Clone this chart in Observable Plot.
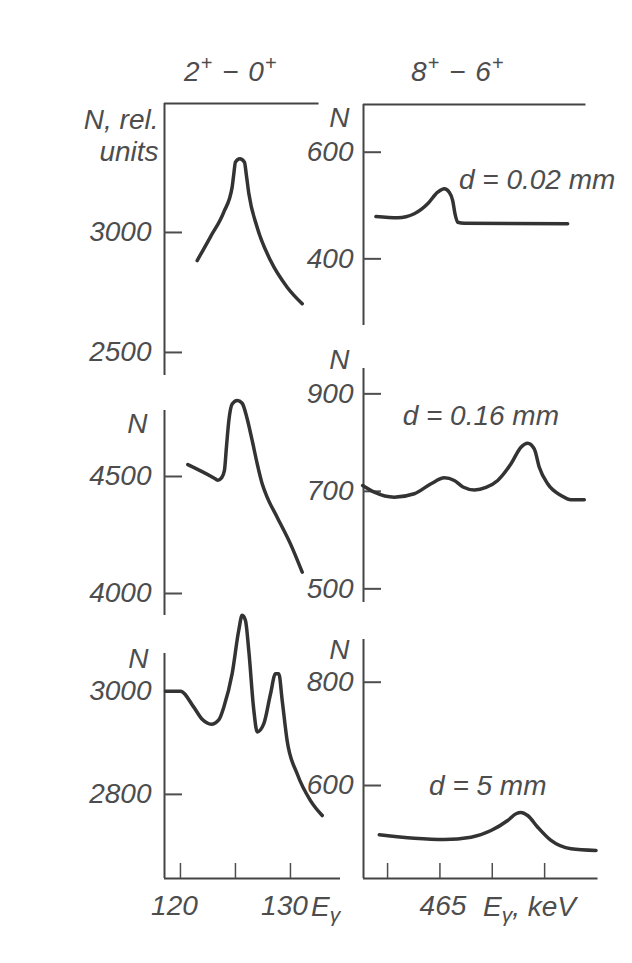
<!DOCTYPE html>
<html>
<head>
<meta charset="utf-8">
<script src="https://cdn.jsdelivr.net/npm/d3@7"></script>
<script src="https://cdn.jsdelivr.net/npm/@observablehq/plot@0.6"></script>
<style>
html, body { margin: 0; padding: 0; background: #fff; overflow: hidden; }
#fig { position: relative; width: 632px; height: 963px; background: #fff; overflow: hidden;
  font-family: 'Liberation Sans', Arial, sans-serif; font-style: italic; color: #4d4d4d; }
.lbl { position: absolute; font-size: 28px; line-height: 1; white-space: nowrap; }
.ttl { font-size: 28px; letter-spacing: 1px; }
.lbl sup { font-size: 20px; position: relative; top: -5px; vertical-align: top; }
.lbl sub { font-size: 21px; position: relative; top: 11px; vertical-align: top; }
</style>
</head>
<body>
<div id="fig"></div>
<script>
// ---------- data ----------
// Transition titles for the two columns
const transitionTitles = ["2+− 0+", "8+− 6+"];
// Target thickness for each row
const thicknessLabels = ["d = 0.02 mm", "d = 0.16 mm", "d = 5 mm"];

// 2+ -> 0+ (left column), E in keV, N in rel. units
const energy21_d002 = [121.52, 122.73, 123.94, 124.70, 124.85, 125.00, 125.40, 125.82, 125.98, 126.22, 126.97, 128.19, 129.70, 131.07];
const counts21_d002 = [2883, 2982, 3085, 3189, 3244, 3293, 3307, 3293, 3244, 3161, 3022, 2883, 2772, 2703];

const energy21_d016 = [120.67, 123.00, 123.40, 123.75, 124.00, 124.18, 124.40, 124.70, 125.16, 125.61, 126.07, 126.52, 126.98, 127.43, 127.89, 128.79, 130.00, 131.07];
const counts21_d016 = [4551, 4495, 4484, 4495, 4526, 4625, 4739, 4810, 4825, 4813, 4746, 4654, 4554, 4469, 4411, 4326, 4212, 4091];

const energy21_d5 = [118.64, 120.00, 121.21, 122.00, 122.80, 123.50, 123.94, 124.70, 125.30, 125.61, 125.91, 126.21, 126.67, 126.98, 127.58, 128.19, 128.64, 128.94, 129.25, 129.70, 130.61, 131.82, 132.89];
const counts21_d5 = [3000, 3000, 2969, 2945, 2936, 2945, 2969, 3034, 3118, 3147, 3137, 3079, 2963, 2921, 2937, 2995, 3034, 3034, 2982, 2904, 2840, 2788, 2759];

// 8+ -> 6+ (right column)
const energy86_d002 = [458.89, 460.97, 462.55, 463.83, 464.79, 465.42, 465.89, 466.22, 466.44, 466.70, 467.33, 477.20];
const counts86_d002 = [479.4, 477.0, 484.5, 503.2, 525.0, 531.4, 525.0, 509.4, 484.5, 468.7, 466.9, 465.7];

const energy86_d016 = [457.62, 458.73, 460.64, 462.55, 464.15, 465.42, 466.37, 467.20, 468.30, 469.40, 470.52, 471.79, 472.74, 473.38, 474.01, 474.49, 475.29, 476.56, 477.52, 478.79];
const counts86_d016 = [712.0, 698.3, 688.0, 695.0, 715.5, 727.8, 722.3, 709.0, 703.0, 708.0, 722.3, 756.5, 790.6, 798.8, 787.3, 749.5, 715.5, 691.5, 682.7, 682.7];

const energy86_d5 = [459.21, 462.55, 465.42, 467.97, 469.88, 471.47, 472.27, 472.74, 473.38, 474.34, 475.61, 477.52, 479.91];
const counts86_d5 = [504.6, 498.0, 495.5, 500.0, 512.9, 532.3, 545.3, 547.8, 542.0, 519.3, 493.6, 477.5, 474.2];

// tick values
const yTicks21_d002 = [2500, 3000];
const yTicks21_d016 = [4000, 4500];
const yTicks21_d5 = [2800, 3000];
const yTicks86_d002 = [400, 600];
const yTicks86_d016 = [500, 700, 900];
const yTicks86_d5 = [600, 800];
const xTicks21 = [120, 125, 130];
const xTickLabels21 = [120, 130];
const xTicks86 = [460, 465, 470, 475];
const xTickLabels86 = [465];
const yLabelFirst = "N, rel.\nunits";
const yLabel = "N";

// ---------- layout (pixels / scale domains) ----------
const INK = "#333333", AXIS = "#444444", TEXT = "#4d4d4d";
const FONT = "'Liberation Sans', Arial, sans-serif";
const FS = 28;
const LEFT = {frameLeft: 164, pxPerKeV: 11, x0: 118.55, pad: 13, xLabelDx: -6};
const RIGHT = {frameLeft: 362.5, pxPerKeV: 10.47, x0: 457.7, pad: 10, xLabelDx: 3};

const panels = [
  {col: LEFT, E: energy21_d002, N: counts21_d002, x1: 132.6, yDomain: [2404, 3537.5], top: 103, bottom: 375,
   yTicks: yTicks21_d002, yLab: yLabelFirst, nDx: -6, nDy: 31, frameTop: true},
  {col: LEFT, E: energy21_d016, N: counts21_d016, x1: 134.55, yDomain: [3906, 4782], top: 410, bottom: 615,
   yTicks: yTicks21_d016, yLab: yLabel, nDx: -17, nDy: 12},
  {col: LEFT, E: energy21_d5, N: counts21_d5, x1: 134.55, yDomain: [2637, 3073], top: 653, bottom: 878,
   yTicks: yTicks21_d5, yLab: yLabel, nDx: -16, nDy: 4, xTicks: xTicks21, xLabels: xTickLabels21},
  {col: RIGHT, E: energy86_d002, N: counts86_d002, x1: 478.95, yDomain: [275, 689.5], top: 104, bottom: 325,
   yTicks: yTicks86_d002, yLab: yLabel, nDx: -14, nDy: 12, frameTop: true,
   ann: thicknessLabels[0], annX: 466.82, annY: 546.9},
  {col: RIGHT, E: energy86_d016, N: counts86_d016, x1: 480.1, yDomain: [472, 952], top: 368, bottom: 602,
   yTicks: yTicks86_d016, yLab: yLabel, nDx: -14, nDy: -10,
   ann: thicknessLabels[1], annX: 461.44, annY: 855.5},
  {col: RIGHT, E: energy86_d5, N: counts86_d5, x1: 480.1, yDomain: [420, 882.7], top: 639, bottom: 878,
   yTicks: yTicks86_d5, yLab: yLabel, nDx: -14, nDy: 9, xTicks: xTicks86, xLabels: xTickLabels86,
   ann: thicknessLabels[2], annX: 463.96, annY: 598.6}
];

const fig = document.getElementById("fig");

for (const p of panels) {
  const c = p.col;
  const ml = 100, mr = 70, mt = 40, mb = p.xTicks ? 50 : 10;
  const width = ml + (p.x1 - c.x0) * c.pxPerKeV + mr;
  const height = mt + (p.bottom - p.top) + mb;
  const rows = p.E.map((e, i) => ({E: e, N: p.N[i]}));
  const marks = [
    Plot.ruleX([c.x0], {stroke: AXIS, strokeWidth: 2}),
    Plot.axisY(p.yTicks, {anchor: "left", tickSize: -18, tickPadding: 18 + c.pad, strokeWidth: 2,
      tickFormat: d => String(d), fontSize: FS, label: null}),
    Plot.text([p.yLab], {text: d => d, frameAnchor: "top-left", textAnchor: "end", lineAnchor: "middle",
      dx: p.nDx, dy: p.nDy, fontSize: FS, fill: TEXT, lineHeight: 1.15}),
    Plot.line(rows, {x: "E", y: "N", curve: "monotone-x", stroke: INK, strokeWidth: 3.5,
      strokeLinecap: "round", strokeLinejoin: "round"})
  ];
  if (p.frameTop) marks.push(Plot.ruleY([p.yDomain[1]], {stroke: AXIS, strokeWidth: 2}));
  if (p.xTicks) {
    marks.push(
      Plot.ruleY([p.yDomain[0]], {stroke: AXIS, strokeWidth: 2}),
      Plot.axisX(p.xTicks, {anchor: "bottom", tickSize: -15, tickFormat: () => "", strokeWidth: 1.5, label: null}),
      Plot.text(p.xLabels, {x: d => d, text: d => String(d), frameAnchor: "bottom", lineAnchor: "middle",
        dy: 28, dx: c.xLabelDx, fontSize: FS, fill: TEXT})
    );
  }
  if (p.ann) {
    marks.push(Plot.text([p.ann], {text: d => d, x: p.annX, y: p.annY, textAnchor: "start",
      lineAnchor: "middle", fontSize: FS, fill: TEXT}));
  }
  const svg = Plot.plot({
    width, height,
    marginLeft: ml, marginRight: mr, marginTop: mt, marginBottom: mb,
    x: {domain: [c.x0, p.x1], axis: null},
    y: {domain: p.yDomain, axis: null},
    style: {
      fontFamily: FONT, fontStyle: "italic", fontSize: FS + "px", color: TEXT,
      background: "transparent", overflow: "visible", position: "absolute",
      left: (c.frameLeft - ml) + "px", top: (p.top - mt) + "px", maxWidth: "none"
    },
    marks
  });
  fig.appendChild(svg);
}

// column titles and energy-axis labels
function addLabel(html, left, top, cls) {
  const d = document.createElement("div");
  d.className = "lbl" + (cls ? " " + cls : "");
  d.innerHTML = html;
  d.style.left = left + "px";
  d.style.top = top + "px";
  fig.appendChild(d);
}
const sup = s => s.replace(/\+/g, "<sup>+</sup>").replace("−", " − ");
addLabel(sup(transitionTitles[0]), 184, 58, "ttl");
addLabel(sup(transitionTitles[1]), 411, 58, "ttl");
addLabel("E<sub>γ</sub>", 311, 893);
addLabel("E<sub>γ</sub>, keV", 483, 893);
</script>
</body>
</html>
